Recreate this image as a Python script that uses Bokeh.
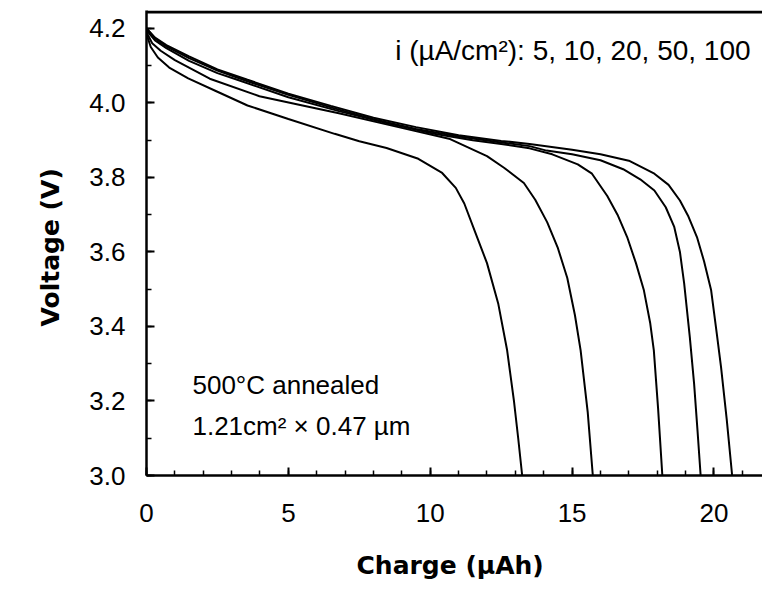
from bokeh.plotting import figure
from bokeh.models import Range1d, SingleIntervalTicker, Label, PrintfTickFormatter, Span
from bokeh.embed import file_html
from bokeh.resources import INLINE

# ---- data (charge in uAh, voltage in V) ----
q_5 = [0, 0.3, 0.7, 1.5, 2.5, 3.56, 5, 6.5, 8, 9.5, 11, 12.5, 13.5, 15, 16, 17, 17.9, 18.4, 18.8, 19.1, 19.4, 19.65, 19.9, 20.1, 20.25, 20.45, 20.64]
v_5 = [4.20, 4.175, 4.155, 4.125, 4.09, 4.062, 4.025, 3.992, 3.96, 3.935, 3.913, 3.898, 3.89, 3.874, 3.862, 3.845, 3.81, 3.78, 3.738, 3.695, 3.64, 3.575, 3.497, 3.38, 3.29, 3.15, 3.0]

q_10 = [0, 0.3, 0.7, 1.5, 2.5, 3.56, 5, 6.5, 8, 9.5, 11, 12.5, 13.5, 14.1, 15, 16, 16.8, 17.4, 17.9, 18.3, 18.6, 18.8, 18.95, 19.15, 19.3, 19.42, 19.53]
v_10 = [4.20, 4.173, 4.152, 4.12, 4.087, 4.058, 4.022, 3.988, 3.956, 3.93, 3.91, 3.894, 3.884, 3.872, 3.862, 3.846, 3.822, 3.795, 3.765, 3.72, 3.667, 3.6, 3.515, 3.37, 3.246, 3.12, 3.0]

q_20 = [0, 0.3, 0.7, 1.5, 2.5, 3.2, 5, 6.78, 8.5, 10.14, 11.5, 12.5, 13.5, 14.3, 15.2, 15.7, 16.24, 16.6, 16.94, 17.25, 17.53, 17.75, 17.88, 18.03, 18.18]
v_20 = [4.195, 4.168, 4.147, 4.113, 4.08, 4.062, 4.015, 3.978, 3.945, 3.917, 3.9, 3.89, 3.878, 3.862, 3.835, 3.81, 3.75, 3.7, 3.64, 3.57, 3.497, 3.41, 3.336, 3.18, 3.0]

q_50 = [0, 0.2, 0.5, 1, 2.23, 3.98, 5.5, 6.78, 8.88, 10.7, 12.0, 12.6, 13.3, 13.7, 14.12, 14.5, 14.83, 15.1, 15.3, 15.55, 15.73]
v_50 = [4.19, 4.16, 4.14, 4.115, 4.065, 4.018, 3.993, 3.972, 3.935, 3.903, 3.857, 3.826, 3.785, 3.74, 3.68, 3.61, 3.53, 3.43, 3.336, 3.17, 3.0]

q_100 = [0, 0.15, 0.4, 0.8, 1.47, 2.5, 3.56, 5, 6.63, 7.5, 8.46, 9.58, 10.42, 10.9, 11.2, 11.6, 12.0, 12.4, 12.71, 12.95, 13.1, 13.24]
v_100 = [4.185, 4.15, 4.122, 4.095, 4.066, 4.03, 3.993, 3.957, 3.917, 3.897, 3.879, 3.85, 3.812, 3.772, 3.73, 3.65, 3.57, 3.46, 3.336, 3.2, 3.1, 3.0]

series = [(q_5, v_5), (q_10, v_10), (q_20, v_20), (q_50, v_50), (q_100, v_100)]

note_current = "i (\u00b5A/cm\u00b2): 5, 10, 20, 50, 100"
note_anneal = "500\u00b0C annealed"
note_size = "1.21cm\u00b2 \u00d7 0.47 \u00b5m"

X_END = 21.71
Y_START, Y_END = 3.0, 4.248
TOP_RULE = 4.244  # frame's top border, drawn just inside the frame

p = figure(width=762, height=592, output_backend="svg", toolbar_location=None,
           x_range=Range1d(0, X_END), y_range=Range1d(Y_START, Y_END),
           min_border_left=146, min_border_right=0, min_border_top=10, min_border_bottom=117)
p.background_fill_color = "white"
p.border_fill_color = "white"
p.outline_line_color = None
p.xgrid.visible = False
p.ygrid.visible = False

for q, v in series:
    p.line(q, v, line_color="black", line_width=2)

TICK_FONT = "Liberation Sans"
TITLE_FONT = "DejaVu Sans"
for ax in (p.xaxis[0], p.yaxis[0]):
    ax.axis_line_width = 2.5
    ax.axis_line_color = "black"
    ax.major_tick_line_width = 2
    ax.minor_tick_line_width = 1.5
    ax.major_tick_in = 8
    ax.major_tick_out = 0
    ax.minor_tick_in = 5
    ax.minor_tick_out = 0
    ax.major_label_text_font = TICK_FONT
    ax.major_label_text_font_size = "26px"
    ax.major_label_text_color = "black"
    ax.axis_label_text_font = TITLE_FONT
    ax.axis_label_text_font_style = "bold"
    ax.axis_label_text_font_size = "25px"
    ax.axis_label_text_color = "black"

p.xaxis.ticker = SingleIntervalTicker(interval=5, num_minor_ticks=5)
p.yaxis.ticker = SingleIntervalTicker(interval=0.2, num_minor_ticks=2)
p.yaxis.formatter = PrintfTickFormatter(format="%.1f")
p.xaxis.major_label_standoff = 28
p.yaxis.major_label_standoff = 21
p.xaxis.axis_label = "Charge  (\u00b5Ah)"
p.yaxis.axis_label = "Voltage  (V)"
p.xaxis.axis_label_standoff = 26
p.yaxis.axis_label_standoff = 21

p.add_layout(Span(location=TOP_RULE, dimension="width", line_color="black", line_width=3))

p.add_layout(Label(x=21.29, y=4.141, text=note_current, text_align="right", text_baseline="middle",
                   text_font=TICK_FONT, text_font_size="28px", text_color="black"))
p.add_layout(Label(x=1.62, y=3.2416, text=note_anneal, text_align="left", text_baseline="middle",
                   text_font=TICK_FONT, text_font_size="26px", text_color="black"))
p.add_layout(Label(x=1.62, y=3.134, text=note_size, text_align="left", text_baseline="middle",
                   text_font=TICK_FONT, text_font_size="26px", text_color="black"))

open("out.html", "w").write(file_html(p, INLINE))
